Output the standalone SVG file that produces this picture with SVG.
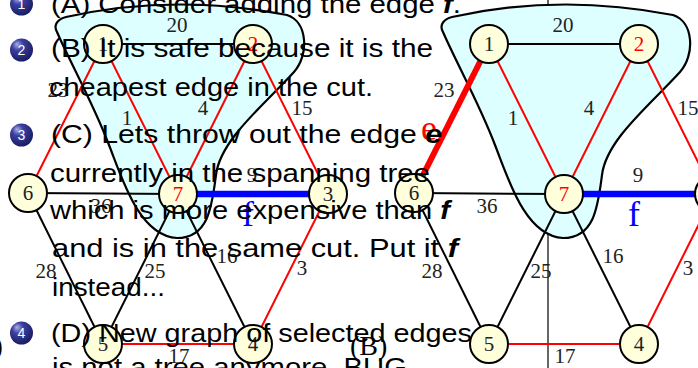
<svg xmlns="http://www.w3.org/2000/svg" width="698" height="368" viewBox="0 0 698 368">
<defs>
<radialGradient id="ball" cx="0.4" cy="0.35" r="0.7" fx="0.3" fy="0.25">
<stop offset="0" stop-color="#a9aee8"/>
<stop offset="0.35" stop-color="#3b40a0"/>
<stop offset="1" stop-color="#161a5e"/>
</radialGradient>
<path id="cut" d="M 443,32 C 455,60 480,105 495,145 C 508,178 525,236 563,238 C 595,238 598,205 602,175 C 606,140 650,105 680,72 C 695,55 694,22 673,15 Q 560,-7 452,17 C 441,20 440,27 443,32 Z"/>
</defs>
<style>
.e{stroke:#000;stroke-width:2;fill:none}
.r{stroke:#f00}
.rt{stroke:#f00;stroke-width:6}
.b{stroke:#00f;stroke-width:6.5}
.nd circle{fill:#ffffdc;stroke:#000;stroke-width:2}
.lb{font-family:"Liberation Serif","DejaVu Serif",serif;font-size:21px;text-anchor:middle;fill:#222}
.big{font-size:36px}
.red{fill:#f00}
.blu{fill:#00f}
.cutc{fill:#ddffff;stroke:#000;stroke-width:2.2}
.tx{font-family:"Liberation Sans","DejaVu Sans",sans-serif;font-size:25px;fill:#000}
.bi{font-weight:bold;font-style:italic}
.bn{font-family:"Liberation Sans","DejaVu Sans",sans-serif;font-size:14px;fill:#fff;text-anchor:middle}
.cap{font-family:"Liberation Serif","DejaVu Serif",serif;font-size:28px;fill:#000}
</style>
<rect width="698" height="368" fill="#fff"/>
<line x1="548" y1="0" x2="548" y2="368" stroke="#000" stroke-width="1.2"/>

<!-- Graph A (left) -->
<g id="graphA" transform="translate(-386,0)">
<use href="#cut" class="cutc"/>
<g id="connectorsA">
<line class="e" x1="489" y1="44" x2="639" y2="44"/>
<line class="e r" x1="489" y1="44" x2="564" y2="194"/>
<line class="e r" x1="639" y1="44" x2="564" y2="194"/>
<line class="e r" x1="639" y1="44" x2="714" y2="194"/>
<line class="e r" x1="489" y1="44" x2="414" y2="193"/>
<line class="e" x1="414" y1="193" x2="564" y2="194"/>
<line class="e b" x1="564" y1="194" x2="714" y2="194"/>
<line class="e" x1="414" y1="193" x2="489" y2="344"/>
<line class="e" x1="564" y1="194" x2="489" y2="344"/>
<line class="e" x1="564" y1="194" x2="639" y2="344"/>
<line class="e r" x1="714" y1="194" x2="639" y2="344"/>
<line class="e r" x1="489" y1="344" x2="639" y2="344"/>
<text class="lb" x="563" y="32">20</text>
<text class="lb" x="513" y="125">1</text>
<text class="lb" x="589" y="115">4</text>
<text class="lb" x="688" y="115">15</text>
<text class="lb" x="444" y="97">23</text>
<text class="lb" x="487" y="213">36</text>
<text class="lb" x="638" y="182">9</text>
<text class="lb big blu" x="634" y="226">f</text>
<text class="lb" x="432" y="278">28</text>
<text class="lb" x="541" y="278">25</text>
<text class="lb" x="613" y="263">16</text>
<text class="lb" x="688" y="275">3</text>
<text class="lb" x="565" y="363">17</text>
</g>
<g id="A1" class="nd"><circle cx="489" cy="44" r="19"/><text class="lb" x="489" y="51">1</text></g>
<g id="A2" class="nd"><circle cx="639" cy="44" r="19"/><text class="lb red" x="639" y="51">2</text></g>
<g id="A6" class="nd"><circle cx="414" cy="193" r="19"/><text class="lb" x="414" y="200">6</text></g>
<g id="A7" class="nd"><circle cx="564" cy="194" r="19"/><text class="lb red" x="564" y="201">7</text></g>
<g id="A3" class="nd"><circle cx="714" cy="194" r="19"/><text class="lb" x="714" y="201">3</text></g>
<g id="A5" class="nd"><circle cx="489" cy="344" r="19"/><text class="lb" x="489" y="351">5</text></g>
<g id="A4" class="nd"><circle cx="639" cy="344" r="19"/><text class="lb" x="639" y="351">4</text></g>
<text class="cap" x="350" y="355">(A)</text>
</g>

<!-- Graph B (right) -->
<g id="graphB">
<use href="#cut" class="cutc"/>
<g id="connectorsB">
<line class="e" x1="489" y1="44" x2="639" y2="44"/>
<line class="e r" x1="489" y1="44" x2="564" y2="194"/>
<line class="e r" x1="639" y1="44" x2="564" y2="194"/>
<line class="e r" x1="639" y1="44" x2="714" y2="194"/>
<line class="e rt" x1="489" y1="44" x2="414" y2="193"/>
<line class="e" x1="414" y1="193" x2="564" y2="194"/>
<line class="e b" x1="564" y1="194" x2="714" y2="194"/>
<line class="e" x1="414" y1="193" x2="489" y2="344"/>
<line class="e" x1="564" y1="194" x2="489" y2="344"/>
<line class="e" x1="564" y1="194" x2="639" y2="344"/>
<line class="e r" x1="714" y1="194" x2="639" y2="344"/>
<line class="e r" x1="489" y1="344" x2="639" y2="344"/>
<text class="lb" x="563" y="32">20</text>
<text class="lb" x="513" y="125">1</text>
<text class="lb" x="589" y="115">4</text>
<text class="lb" x="688" y="115">15</text>
<text class="lb" x="444" y="97">23</text>
<text class="lb big red" x="429" y="140">e</text>
<text class="lb" x="487" y="213">36</text>
<text class="lb" x="638" y="182">9</text>
<text class="lb big blu" x="634" y="226">f</text>
<text class="lb" x="432" y="278">28</text>
<text class="lb" x="541" y="278">25</text>
<text class="lb" x="613" y="263">16</text>
<text class="lb" x="688" y="275">3</text>
<text class="lb" x="565" y="363">17</text>
</g>
<g id="B1" class="nd"><circle cx="489" cy="44" r="19"/><text class="lb" x="489" y="51">1</text></g>
<g id="B2" class="nd"><circle cx="639" cy="44" r="19"/><text class="lb red" x="639" y="51">2</text></g>
<g id="B6" class="nd"><circle cx="414" cy="193" r="19"/><text class="lb" x="414" y="200">6</text></g>
<g id="B7" class="nd"><circle cx="564" cy="194" r="19"/><text class="lb red" x="564" y="201">7</text></g>
<g id="B3" class="nd"><circle cx="714" cy="194" r="19"/><text class="lb" x="714" y="201">3</text></g>
<g id="B5" class="nd"><circle cx="489" cy="344" r="19"/><text class="lb" x="489" y="351">5</text></g>
<g id="B4" class="nd"><circle cx="639" cy="344" r="19"/><text class="lb" x="639" y="351">4</text></g>
<text class="cap" x="350" y="355">(B)</text>
</g>

<!-- Overlaid bullet list -->
<g id="list">
<circle cx="21.5" cy="4" r="11.5" fill="url(#ball)"/><text class="bn" x="21.5" y="9">1</text>
<circle cx="21.5" cy="50" r="11.5" fill="url(#ball)"/><text class="bn" x="21.5" y="55">2</text>
<circle cx="21.5" cy="135" r="11.5" fill="url(#ball)"/><text class="bn" x="21.5" y="140">3</text>
<circle cx="21.5" cy="333" r="11.5" fill="url(#ball)"/><text class="bn" x="21.5" y="338">4</text>
<text class="tx" x="51" y="13" textLength="410" lengthAdjust="spacingAndGlyphs">(A) Consider adding the edge <tspan class="bi">f</tspan>.</text>
<text class="tx" x="51" y="57" textLength="382" lengthAdjust="spacingAndGlyphs">(B) It is safe because it is the</text>
<text class="tx" x="49" y="96" textLength="324" lengthAdjust="spacingAndGlyphs">cheapest edge in the cut.</text>
<text class="tx" x="51" y="143" textLength="391" lengthAdjust="spacingAndGlyphs">(C) Lets throw out the edge <tspan class="bi">e</tspan></text>
<text class="tx" x="50" y="182" textLength="380" lengthAdjust="spacingAndGlyphs">currently in the spanning tree</text>
<text class="tx" x="50" y="219" textLength="400" lengthAdjust="spacingAndGlyphs">which is more expensive than <tspan class="bi">f</tspan></text>
<text class="tx" x="52" y="257" textLength="406" lengthAdjust="spacingAndGlyphs">and is in the same cut. Put it <tspan class="bi">f</tspan></text>
<text class="tx" x="52" y="296" textLength="113" lengthAdjust="spacingAndGlyphs">instead...</text>
<text class="tx" x="51" y="342" textLength="421" lengthAdjust="spacingAndGlyphs">(D) New graph of selected edges</text>
<text class="tx" x="52" y="376" textLength="355" lengthAdjust="spacingAndGlyphs">is not a tree anymore. BUG</text>
</g>
</svg>
